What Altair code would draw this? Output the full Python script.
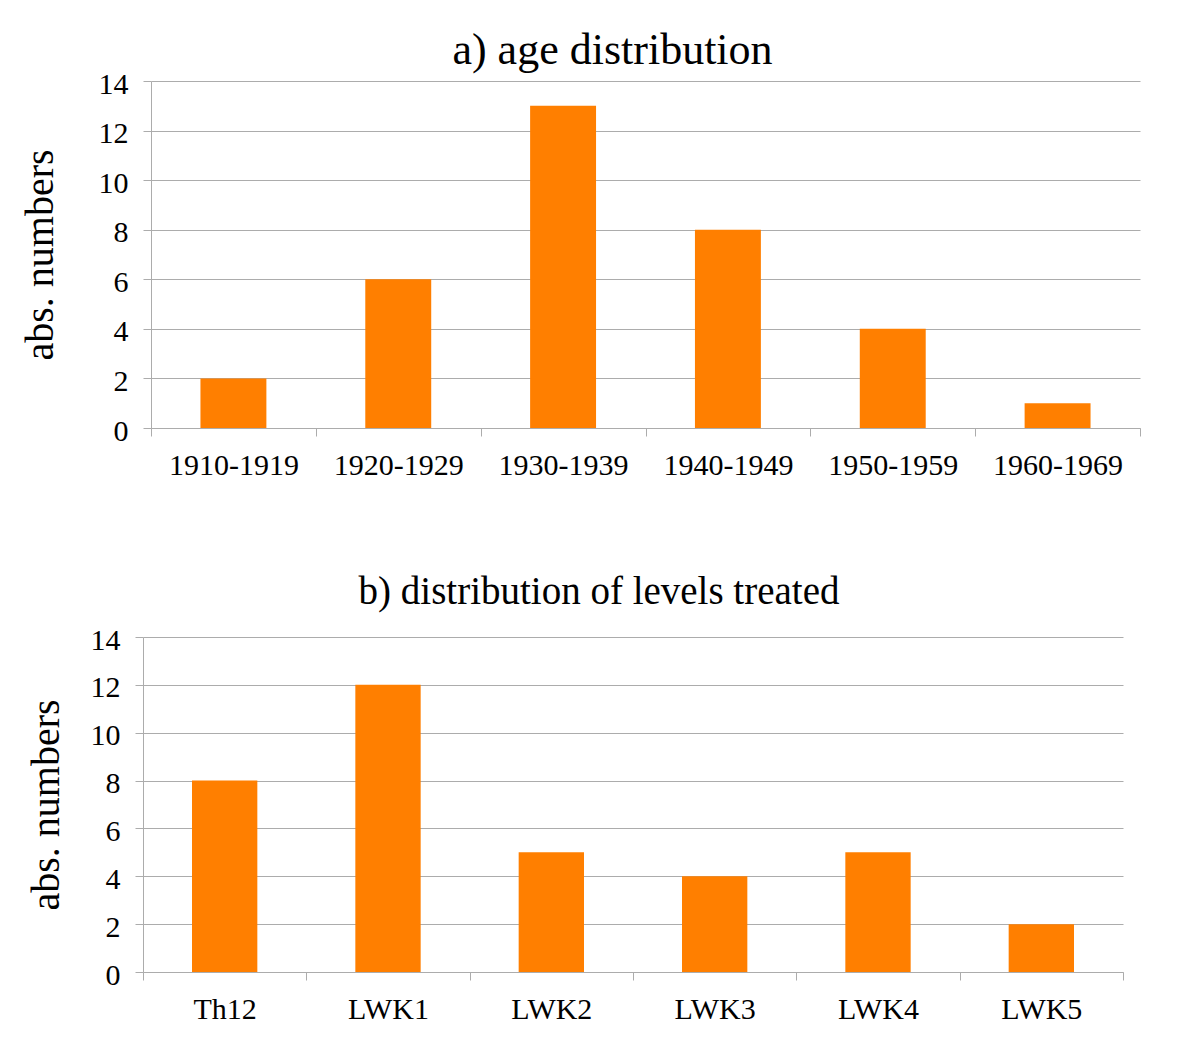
import altair as alt
import pandas as pd

# ---- data ----
age_groups = ["1910-1919", "1920-1929", "1930-1939", "1940-1949", "1950-1959", "1960-1969"]
age_counts = [2, 6, 13, 8, 4, 1]

levels = ["Th12", "LWK1", "LWK2", "LWK3", "LWK4", "LWK5"]
level_counts = [8, 12, 5, 4, 5, 2]

y_ticks = [0, 2, 4, 6, 8, 10, 12, 14]

FONT = "Liberation Serif"
ORANGE = "#ff7f00"
GRID = "#acacac"

df_a = pd.DataFrame({"group": age_groups, "count": age_counts})
df_b = pd.DataFrame({"group": levels, "count": level_counts})


def x_axis():
    return alt.Axis(
        title=None, labelAngle=0, labelFont=FONT, labelFontSize=30, labelColor="black",
        tickBand="extent", tickSize=8, tickColor=GRID, domainColor=GRID,
        labelPadding=14, grid=False,
    )


def y_axis(offset, title_pad):
    return alt.Axis(
        title="abs. numbers", titleFont=FONT, titleFontSize=40, titleFontWeight="normal",
        titleColor="black", titlePadding=title_pad, titleBaseline="alphabetic",
        values=y_ticks, labelFont=FONT, labelFontSize=30, labelColor="black",
        labelPadding=15, labelOffset=3, tickSize=8, tickColor=GRID, domainColor=GRID,
        gridColor=GRID, offset=offset,
    )


chart_a = alt.Chart(
    df_a,
    title=alt.TitleParams(
        "a) age distribution", font=FONT, fontSize=44, fontWeight="normal", color="black",
        anchor="middle", frame="group", baseline="alphabetic", offset=-39, dx=-29,
    ),
).mark_bar(color=ORANGE, width=alt.RelativeBandSize(0.4)).encode(
    x=alt.X("group:N", sort=age_groups,
            scale=alt.Scale(range=[8, 997], paddingInner=0, paddingOuter=0),
            axis=x_axis()),
    y=alt.Y("count:Q", scale=alt.Scale(domain=[0, 14], nice=False),
            axis=y_axis(-8, 46)),
).properties(width=997, height=347)

chart_b = alt.Chart(
    df_b,
    title=alt.TitleParams(
        "b) distribution of levels treated", font=FONT, fontSize=39, fontWeight="normal",
        color="black", anchor="middle", frame="group", baseline="alphabetic", offset=-18,
        dx=-34,
    ),
).mark_bar(color=ORANGE, width=alt.RelativeBandSize(0.4)).encode(
    x=alt.X("group:N", sort=levels,
            scale=alt.Scale(paddingInner=0, paddingOuter=0),
            axis=x_axis()),
    y=alt.Y("count:Q", scale=alt.Scale(domain=[0, 14], nice=False),
            axis=y_axis(0, 32)),
).properties(width=980, height=335)

chart = alt.vconcat(chart_a, chart_b, spacing=93).properties(
    padding={"left": 12, "top": 21, "right": 5, "bottom": 5},
    background="white",
).configure_view(stroke=None)

chart.save("out.html", embed_options={"renderer": "svg", "actions": False})
